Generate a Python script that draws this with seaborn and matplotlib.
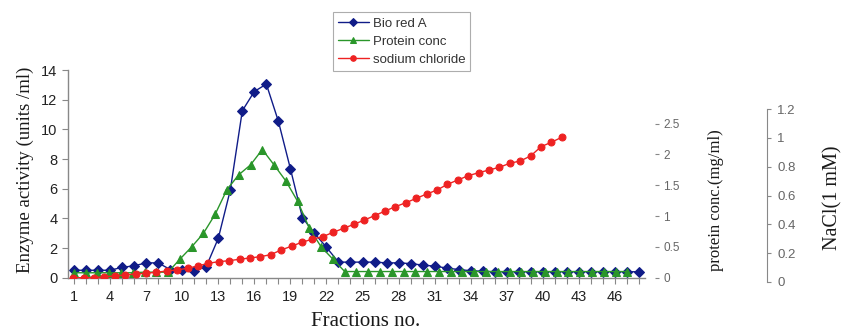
import matplotlib
matplotlib.use("Agg")
import matplotlib.pyplot as plt
import seaborn as sns
from matplotlib.ticker import FixedLocator, FuncFormatter

# fraction numbers (1..48) for each series
fractions = list(range(1, 49))

# Bio red A enzyme activity (units/ml)
bio_red_a = [0.5, 0.5, 0.5, 0.5, 0.7, 0.8, 1.0, 1.0, 0.55, 0.5,
             0.45, 0.75, 2.65, 5.9, 11.25, 12.55, 13.05, 10.55, 7.35, 4.05,
             3.0, 2.05, 1.05, 1.05, 1.05, 1.05, 1.0, 1.0, 0.95, 0.85,
             0.78, 0.65, 0.55, 0.47, 0.43, 0.4, 0.4, 0.4, 0.4, 0.4,
             0.4, 0.4, 0.4, 0.4, 0.4, 0.4, 0.4, 0.4]

# protein conc (mg/ml)
protein_conc = [0.08, 0.08, 0.08, 0.08, 0.08, 0.08, 0.09, 0.09, 0.09, 0.3,
                0.5, 0.72, 1.03, 1.43, 1.67, 1.83, 2.08, 1.83, 1.57, 1.24,
                0.8, 0.5, 0.3, 0.1, 0.1, 0.1, 0.1, 0.1, 0.1, 0.1,
                0.1, 0.1, 0.1, 0.1, 0.1, 0.1, 0.1, 0.1, 0.1, 0.1,
                0.1, 0.1, 0.1, 0.1, 0.1, 0.1, 0.1, 0.1]

# sodium chloride gradient (M)
nacl = [0.0, 0.0, 0.0, 0.007, 0.012, 0.019, 0.026, 0.031, 0.038, 0.047,
        0.054, 0.066, 0.082, 0.101, 0.112, 0.119, 0.129, 0.138, 0.147, 0.161,
        0.194, 0.22, 0.248, 0.269, 0.287, 0.317, 0.345, 0.373, 0.403, 0.434,
        0.466, 0.497, 0.524, 0.555, 0.585, 0.613, 0.653, 0.683, 0.713, 0.734,
        0.753, 0.772, 0.8, 0.816, 0.851, 0.916, 0.947, 0.982]

labels = ["Bio red A", "Protein conc", "sodium chloride"]
BLUE, GREEN, RED = "#101c88", "#2a962a", "#ee2222"
GREY = "#888888"

sns.set_style("white")
plt.rcParams["font.family"] = ["Liberation Sans", "DejaVu Sans"]
SERIF = ["Liberation Serif", "DejaVu Serif"]

fig = plt.figure(figsize=(8.45, 3.33), dpi=100)
pos = [68 / 845, (333 - 277.7) / 333, 577 / 845, 207.7 / 333]
ax = fig.add_axes(pos)
axg = fig.add_axes(pos, facecolor="none")
axr = fig.add_axes(pos, facecolor="none")

sns.lineplot(x=fractions, y=bio_red_a, ax=ax, color=BLUE, marker="D", markersize=5,
             markeredgecolor=BLUE, linewidth=1, legend=False)
sns.lineplot(x=fractions, y=protein_conc, ax=axg, color=GREEN, marker="^", markersize=5.5,
             markeredgecolor=GREEN, linewidth=1, legend=False)
sns.lineplot(x=fractions, y=nacl, ax=axr, color=RED, marker="o", markersize=5,
             markeredgecolor=RED, linewidth=1, legend=False)

fmt = FuncFormatter(lambda v, p: f"{v:g}")

# main axis (enzyme activity)
ax.set_xlim(0.5, 48.5)
ax.set_ylim(0, 14)
ax.set_yticks(range(0, 15, 2))
ax.xaxis.set_major_locator(FixedLocator(range(1, 47, 3)))
ax.xaxis.set_minor_locator(FixedLocator(fractions))
ax.tick_params(axis="both", which="both", bottom=True, left=True, direction="out",
               color=GREY, length=4, width=0.8, labelsize=10.5, labelcolor="#222222")
ax.tick_params(axis="x", pad=5)
for s in ["top", "right"]:
    ax.spines[s].set_visible(False)
for s in ["left", "bottom"]:
    ax.spines[s].set_color(GREY)
    ax.spines[s].set_linewidth(1)
ax.set_xlabel("")
ax.set_ylabel("")

# protein axis
axg.set_xlim(0.5, 49.5)
axg.set_ylim(0, 3.37)
axg.xaxis.set_visible(False)
for s in axg.spines.values():
    s.set_visible(False)
axg.spines["right"].set_position(("outward", 7))
axg.yaxis.tick_right()
axg.set_yticks([0, 0.5, 1, 1.5, 2, 2.5])
axg.yaxis.set_major_formatter(fmt)
axg.tick_params(axis="y", right=True, left=False, direction="out", length=3, width=0.8,
                color=GREY, labelsize=8.5, labelcolor="#666666", pad=3)
axg.set_ylabel("")

# sodium chloride (hidden scale)
axr.set_xlim(0.5, 56)
axr.set_ylim(0, 1.452)
axr.set_axis_off()

# separate NaCl axis on the far right
axn = fig.add_axes([767 / 845, (333 - 282) / 333, 0.0005, 173 / 333], facecolor="none")
axn.set_ylim(0, 1.2)
axn.set_yticks([0, 0.2, 0.4, 0.6, 0.8, 1, 1.2])
axn.yaxis.set_major_formatter(fmt)
axn.xaxis.set_visible(False)
for s in ["top", "bottom", "right"]:
    axn.spines[s].set_visible(False)
axn.spines["left"].set_color(GREY)
axn.yaxis.tick_right()
axn.tick_params(axis="y", right=True, left=False, direction="out", length=3, width=0.8,
                color=GREY, labelsize=9.5, labelcolor="#666666", pad=4)

# axis titles
fig.text(25 / 845, 1 - 170 / 333, "Enzyme activity (units /ml)", rotation=90,
         ha="center", va="center", family=SERIF, fontsize=13.5, color="#1a1a1a")
fig.text(366 / 845, 1 - 321 / 333, "Fractions no.", ha="center", va="center",
         family=SERIF, fontsize=15, color="#1a1a1a")
fig.text(716 / 845, 1 - 200 / 333, "protein conc.(mg/ml)", rotation=90,
         ha="center", va="center", family=SERIF, fontsize=12, color="#1a1a1a")
fig.text(833 / 845, 1 - 198 / 333, "NaCl(1 mM)", rotation=90,
         ha="center", va="center", family=SERIF, fontsize=14.5, color="#1a1a1a")

handles = [ax.lines[0], axg.lines[0], axr.lines[0]]
leg = fig.legend(handles, labels, loc="upper left", bbox_to_anchor=(333 / 845, 1 - 12 / 333),
                 frameon=True, fancybox=False, edgecolor="#999999", fontsize=9.5,
                 handlelength=2.3, handletextpad=0.3, labelspacing=0.45,
                 borderpad=0.4, borderaxespad=0, markerscale=0.8)
leg.get_frame().set_linewidth(0.8)
for t in leg.get_texts():
    t.set_color("#333333")

fig.savefig("out.png", dpi=100)
